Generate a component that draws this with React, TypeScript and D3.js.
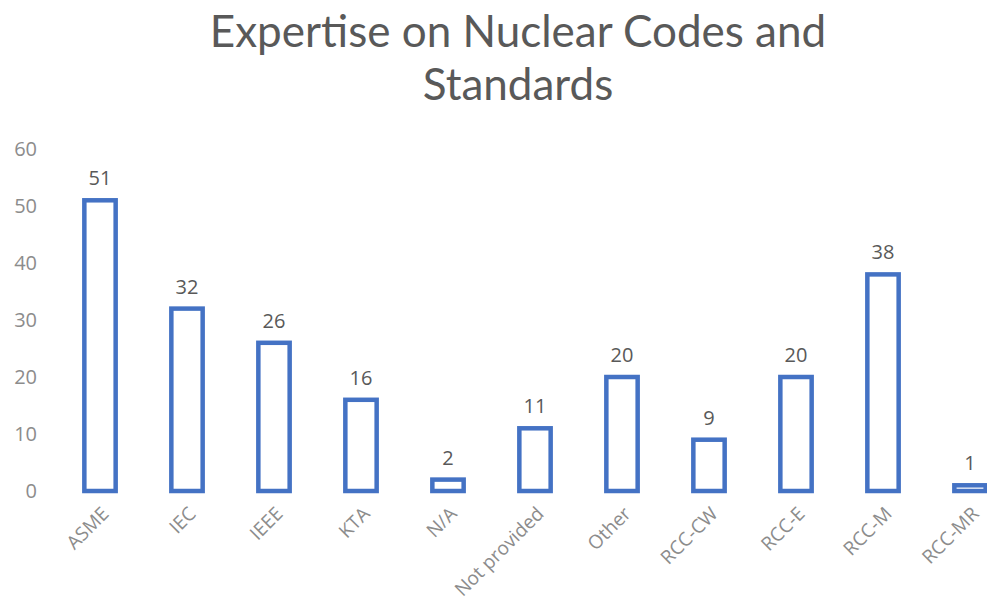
import { useEffect, useRef } from 'react'
import * as d3 from 'd3'

const categories = ['ASME', 'IEC', 'IEEE', 'KTA', 'N/A', 'Not provided', 'Other', 'RCC-CW', 'RCC-E', 'RCC-M', 'RCC-MR']
const counts = [51, 32, 26, 16, 2, 11, 20, 9, 20, 38, 1]
const yTicks = [0, 10, 20, 30, 40, 50, 60]
const titleLines = ['Expertise on Nuclear Codes and', 'Standards']

const W = 987
const H = 616
const FONT = '"Open Sans", "Noto Sans", sans-serif'

export default function App() {
  const svgRef = useRef<SVGSVGElement>(null)

  useEffect(() => {
    const svg = svgRef.current
    if (!svg) return
    const root = d3.select(svg)
    root.selectAll('*').remove()
    root.append('rect').attr('width', W).attr('height', H).attr('fill', '#fff')

    // plot runs a bit past the right edge, like the cropped original
    const x = d3.scaleBand<string>().domain(categories).range([56.5, 1013.5]).paddingInner(0.64).paddingOuter(0.32)
    const y = d3.scaleLinear().domain([0, 60]).range([491, 149])

    // Lato has tighter line metrics, so the two title lines don't collide
    root.append('g').selectAll('text').data(titleLines).join('text')
      .attr('x', 518).attr('y', (_, i) => 47 + i * 53)
      .attr('text-anchor', 'middle').attr('fill', '#595959')
      .attr('font-family', 'Lato, "Open Sans", sans-serif').attr('font-size', 44)
      .text(d => d)

    const yAxis = root.append('g').attr('transform', 'translate(37,0)')
      .call(d3.axisLeft(y).tickValues(yTicks).tickSize(0).tickPadding(0))
    yAxis.select('.domain').remove()
    yAxis.selectAll('text').attr('fill', '#8c8c8c').attr('font-family', FONT).attr('font-size', 20)

    const bars = root.append('g')
    bars.selectAll('rect').data(counts).join('rect')
      .attr('x', (_, i) => x(categories[i])!)
      .attr('y', d => y(d))
      .attr('width', x.bandwidth())
      .attr('height', d => y(0) - y(d))
      .attr('fill', '#fff').attr('stroke', '#4472c4').attr('stroke-width', 4.5)

    bars.selectAll('text').data(counts).join('text')
      .attr('x', (_, i) => x(categories[i])! + x.bandwidth() / 2)
      .attr('y', d => y(d) - 15)
      .attr('text-anchor', 'middle').attr('fill', '#595959')
      .attr('font-family', FONT).attr('font-size', 20)
      .text(d => d)

    root.append('g').selectAll('text').data(categories).join('text')
      .attr('transform', d => `translate(${x(d)! + x.bandwidth() / 2 + 10},${y(0) + 24}) rotate(-45)`)
      .attr('text-anchor', 'end').attr('fill', '#8c8c8c')
      .attr('font-family', FONT).attr('font-size', 19)
      .text(d => d)
  }, [])

  return <svg ref={svgRef} width={W} height={H} style={{ position: 'absolute', left: 0, top: 0 }} />
}
